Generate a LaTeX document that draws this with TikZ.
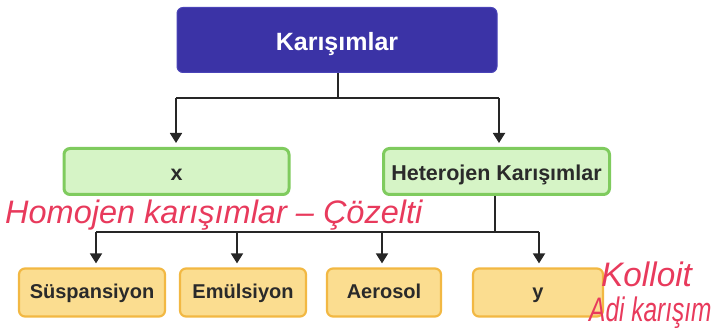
\documentclass[tikz,border=0pt]{standalone}
\usepackage{fontspec}
\usepackage{graphicx}
\setmainfont{Liberation Sans}
\usetikzlibrary{arrows.meta}
\definecolor{topblue}{HTML}{3B33A6}
\definecolor{topedge}{HTML}{4A44B8}
\definecolor{greenfill}{HTML}{D6F4C6}
\definecolor{greenedge}{HTML}{7FCB5E}
\definecolor{orfill}{HTML}{FBDD90}
\definecolor{oredge}{HTML}{F2B843}
\definecolor{ink}{HTML}{E83A5C}
\definecolor{txt}{HTML}{2A2A2A}
\tikzset{
  topbox/.style={draw=topedge, line width=1pt, fill=topblue, rounded corners=6pt,
    text=white, font=\fontsize{25}{28}\selectfont\bfseries, inner sep=0pt,
    text height=22pt, text depth=0pt},
  greenbox/.style={draw=greenedge, line width=3pt, fill=greenfill, rounded corners=6pt,
    text=txt, font=\fontsize{21.5}{24}\selectfont\bfseries, inner sep=0pt,
    text height=19pt, text depth=0pt},
  orbox/.style={draw=oredge, line width=2.2pt, fill=orfill, rounded corners=6pt,
    text=txt, font=\fontsize{20}{23}\selectfont\bfseries, inner sep=0pt,
    text height=12pt, text depth=0pt},
  conn/.style={line width=1.8pt, draw=black!85},
  arr/.style={conn, -{Triangle[width=12pt,length=10pt]}, shorten >=4pt},
  hand/.style={text=ink, inner sep=0pt}
}
\begin{document}
\begin{tikzpicture}[x=1pt,y=-1pt]
\useasboundingbox (0,0) rectangle (728,331);
% boxes
\node[topbox, minimum width=320pt, minimum height=65pt] (top) at (337,40) {Karışımlar};
\node[greenbox, minimum width=225pt, minimum height=46pt] (x) at (176.5,171.5) {x};
\node[greenbox, minimum width=226pt, minimum height=46pt] (het) at (496.5,171.5) {Heterojen Karışımlar};
\node[orbox, minimum width=146pt, minimum height=48pt] (sus) at (92,292.5) {Süspansiyon};
\node[orbox, minimum width=126pt, minimum height=48pt] (emu) at (243,292.5) {Emülsiyon};
\node[orbox, minimum width=114pt, minimum height=48pt] (aer) at (384,292.5) {Aerosol};
\node[orbox, minimum width=130pt, minimum height=48pt] (y) at (538,292.5) {y};
% junctions
\coordinate (t0) at (338,98);
\coordinate (tl) at (176,98);
\coordinate (tr) at (499,98);
\coordinate (h0) at (495,232);
\coordinate (j1) at (96,232);
\coordinate (j2) at (237,232);
\coordinate (j3) at (382,232);
\coordinate (j4) at (539,232);
% connectors
\draw[conn] (top.south -| t0) -- (t0);
\draw[conn] (tl) -- (tr);
\draw[arr] (tl) -- (tl |- x.north);
\draw[arr] (tr) -- (tr |- het.north);
\draw[conn] (het.south -| h0) -- (h0);
\draw[conn] (j1) -- (j4);
\draw[arr] (j1) -- (j1 |- sus.north);
\draw[arr] (j2) -- (j2 |- emu.north);
\draw[arr] (j3) -- (j3 |- aer.north);
\draw[arr] (j4) -- (j4 |- y.north);
% handwritten notes
\node[hand, anchor=base west] (n1) at (5,224)
  {\fontsize{32.5}{35}\selectfont\itshape Homojen karışımlar – Çözelti};
\node[hand, anchor=base west] (n2) at (601,286)
  {\scalebox{0.98}[1.0]{\fontsize{34}{36}\selectfont\itshape Kolloit}};
\node[hand, anchor=base west] (n3) at (589,321)
  {\scalebox{0.72}[1.0]{\fontsize{34}{36}\selectfont\itshape Adi karışım}};
\end{tikzpicture}
\end{document}
